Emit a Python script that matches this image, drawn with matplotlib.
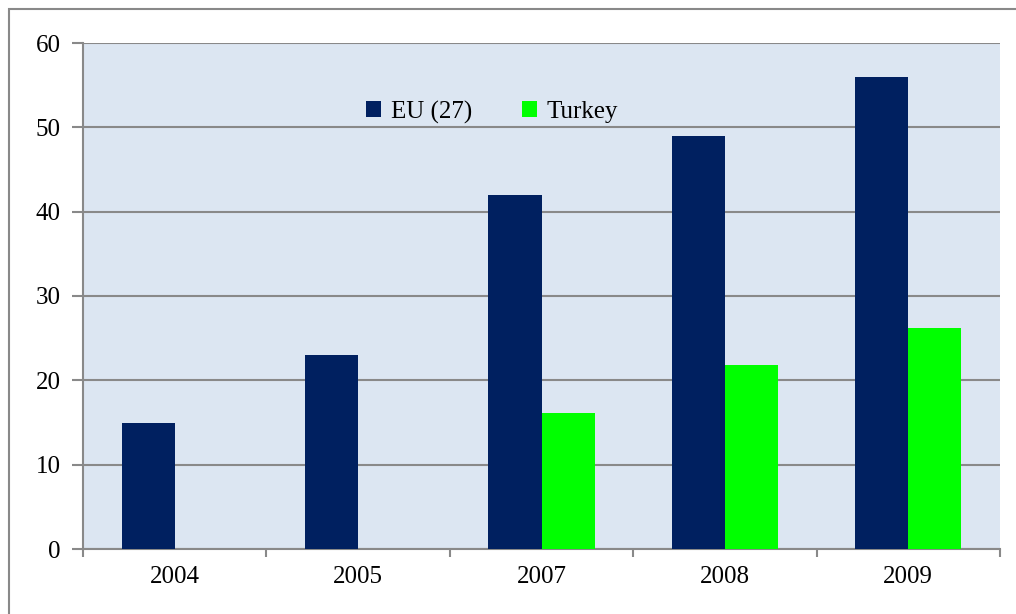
import numpy as np
import matplotlib.pyplot as plt
from matplotlib.patches import Rectangle

years = ['2004', '2005', '2007', '2008', '2009']
eu27 = [15, 23, 42, 49, 56]
turkey = [0, 0, 16.1, 21.8, 26.2]

navy = '#002060'
green = '#00ff00'
grey = '#898989'

plt.rcParams['font.family'] = ['Liberation Serif', 'DejaVu Serif']

fig = plt.figure(figsize=(10.16, 6.14), dpi=100)
ax = fig.add_axes([83 / 1016, 1 - 549 / 614, (1000 - 83) / 1016, (549 - 43) / 614])
ax.set_facecolor('#dce6f2')

x = np.arange(len(years))
w = 0.29
ax.bar(x - w / 2, eu27, w, color=navy, label='EU (27)', zorder=3)
ax.bar(x + w / 2, turkey, w, color=green, label='Turkey', zorder=3)

ax.set_xlim(-0.5, len(years) - 0.5)
ax.set_ylim(0, 60)
ax.set_yticks(range(0, 61, 10))
ax.set_xticks(x)
ax.set_xticklabels(years)
ax.set_xticks(np.arange(-0.5, len(years)), minor=True)
ax.tick_params(axis='x', which='major', length=0, labelsize=18, pad=12)
ax.tick_params(axis='x', which='minor', length=6, width=1.5, color=grey, direction='out')
ax.tick_params(axis='y', length=8, width=1.5, color=grey, labelsize=18, pad=8)
ax.grid(axis='y', color=grey, linewidth=1.5, zorder=1)
ax.set_axisbelow(True)
for s in ['top', 'right']:
    ax.spines[s].set_visible(False)
for s in ['left', 'bottom']:
    ax.spines[s].set_color(grey)
    ax.spines[s].set_linewidth(1.5)

ax.legend(loc='center', bbox_to_anchor=(492 / 1016, 1 - 112 / 614), bbox_transform=fig.transFigure,
          ncol=2, frameon=False, fontsize=18, handlelength=0.6, handleheight=0.6,
          handletextpad=0.4, columnspacing=2.0)

# outer chart frame (cropped on right and bottom)
fig.patches.append(Rectangle((9 / 1016, -0.05), 1.1, 1 - 9 / 614 + 0.05, transform=fig.transFigure,
                             fill=False, edgecolor=grey, linewidth=1.5))

fig.savefig('out.png', dpi=100)
